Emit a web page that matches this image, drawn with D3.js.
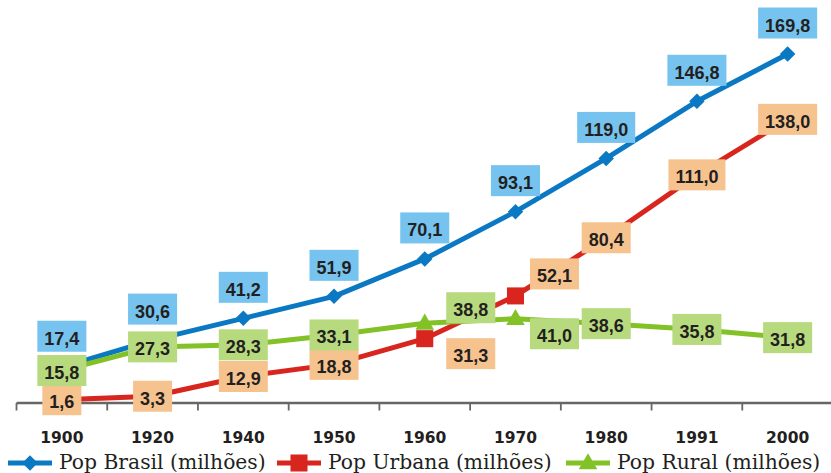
<!DOCTYPE html>
<html>
<head>
<meta charset="utf-8">
<script src="https://cdn.jsdelivr.net/npm/d3@7/dist/d3.min.js"></script>
<style>
  html, body { margin: 0; padding: 0; background: #fff; }
  svg { display: block; }
</style>
</head>
<body>
<svg id="chart" width="831" height="473"></svg>
<script>
// ---- data ----
const categories = ["1900", "1920", "1940", "1950", "1960", "1970", "1980", "1991", "2000"];
const popBrasil  = [17.4, 30.6, 41.2, 51.9, 70.1, 93.1, 119.0, 146.8, 169.8];
const popUrbana  = [1.6, 3.3, 12.9, 18.8, 31.3, 52.1, 80.4, 111.0, 138.0];
const popRural   = [15.8, 27.3, 28.3, 33.1, 38.8, 41.0, 38.6, 35.8, 31.8];
const seriesNames = ["Pop Brasil (milhões)", "Pop Urbana (milhões)", "Pop Rural (milhões)"];

// ---- label placement (style, not data) ----
const brasilOffsets = categories.map(() => [0, -31]);
const urbanaOffsets = [[0,0],[0,0],[0,0],[0,0],[46,15],[39,-22],[0,0],[0,0],[0,0]];
const ruralOffsets  = [[0,0],[0,0],[0,0],[0,0],[46,-15.5],[39,15],[0,0],[0,0],[0,0]];

const series = [
  { name: seriesNames[0], values: popBrasil, line: "#0a78c2", fill: "#75c3ee", marker: "diamond", offsets: brasilOffsets },
  { name: seriesNames[1], values: popUrbana, line: "#d8251d", fill: "#f6c38f", marker: "square",  offsets: urbanaOffsets },
  { name: seriesNames[2], values: popRural,  line: "#83c226", fill: "#b7da7e", marker: "triangle", offsets: ruralOffsets }
];

const svg = d3.select("#chart");
const axisY = 403;

const x = d3.scaleBand().domain(categories).range([16.5, 833]).padding(0);
const y = d3.scaleLinear().domain([0, 170]).range([axisY, 53.6]);
const cx = c => x(c) + x.bandwidth() / 2;

// ---- axis ----
const axisG = svg.append("g").attr("transform", `translate(0,${axisY})`);
axisG.append("line")
  .attr("x1", x.range()[0]).attr("x2", 831)
  .attr("y1", 0).attr("y2", 0)
  .attr("stroke", "#666").attr("stroke-width", 2.4);
axisG.selectAll("line.tick").data(categories).enter().append("line")
  .attr("class", "tick")
  .attr("x1", d => x(d)).attr("x2", d => x(d))
  .attr("y1", 0).attr("y2", 7.5)
  .attr("stroke", "#666").attr("stroke-width", 1.8);
axisG.selectAll("text.lab").data(categories).enter().append("text")
  .attr("class", "lab")
  .attr("x", d => cx(d)).attr("y", 40)
  .attr("text-anchor", "middle")
  .attr("font-family", "'DejaVu Sans', sans-serif")
  .attr("font-weight", "bold")
  .attr("font-size", "15.5px")
  .attr("fill", "#231f20")
  .text(d => d);

// ---- markers ----
const symbolFor = {
  diamond: d3.symbol().type(d3.symbolSquare).size(120),
  square: d3.symbol().type(d3.symbolSquare).size(290),
  triangle: d3.symbol().type(d3.symbolTriangle).size(150)
};
function drawMarker(g, type, px, py, color) {
  const p = g.append("path")
    .attr("d", symbolFor[type]())
    .attr("fill", color);
  if (type === "diamond") p.attr("transform", `translate(${px},${py}) rotate(45)`);
  else if (type === "triangle") p.attr("transform", `translate(${px},${py + 1})`);
  else p.attr("transform", `translate(${px},${py})`);
}

// ---- lines ----
const lineGen = d3.line().x((d, i) => cx(categories[i])).y(d => y(d));
const linesG = svg.append("g");
series.forEach(s => {
  const g = linesG.append("g");
  g.append("path")
    .datum(s.values)
    .attr("d", lineGen)
    .attr("fill", "none")
    .attr("stroke", s.line)
    .attr("stroke-width", 5)
    .attr("stroke-linejoin", "round");
  s.values.forEach((v, i) => drawMarker(g, s.marker, cx(categories[i]), y(v), s.line));
});

// ---- data labels ----
const fmt = v => d3.format(".1f")(v).replace(".", ",");
const labelsG = svg.append("g");
series.forEach(s => {
  s.values.forEach((v, i) => {
    const [dx, dy] = s.offsets[i];
    const px = cx(categories[i]) + dx;
    const py = y(v) + dy;
    const g = labelsG.append("g");
    const rect = g.append("rect").attr("fill", s.fill);
    const t = g.append("text")
      .attr("x", px).attr("y", py + 8.5)
      .attr("text-anchor", "middle")
      .attr("font-family", "'Liberation Sans', Arial, sans-serif")
      .attr("font-weight", "bold")
      .attr("font-size", "18px")
      .attr("fill", "#231f20")
      .text(fmt(v));
    const w = t.node().getComputedTextLength() + 14;
    const h = 31;
    rect.attr("x", px - w / 2).attr("y", py - h / 2).attr("width", w).attr("height", h);
  });
});

// ---- legend ----
const legendItems = [
  { s: series[0], x0: 8 },
  { s: series[1], x0: 277 },
  { s: series[2], x0: 566 }
];
const legY = 463;
const legG = svg.append("g");
legendItems.forEach(it => {
  const g = legG.append("g");
  g.append("line")
    .attr("x1", it.x0).attr("x2", it.x0 + 44)
    .attr("y1", legY).attr("y2", legY)
    .attr("stroke", it.s.line).attr("stroke-width", 5);
  drawMarker(g, it.s.marker, it.x0 + 22, legY, it.s.line);
  g.append("text")
    .attr("x", it.x0 + 51).attr("y", legY + 6)
    .attr("font-family", "'DejaVu Serif', serif")
    .attr("font-size", "20.3px")
    .attr("fill", "#231f20")
    .text(it.s.name);
});
</script>
</body>
</html>
